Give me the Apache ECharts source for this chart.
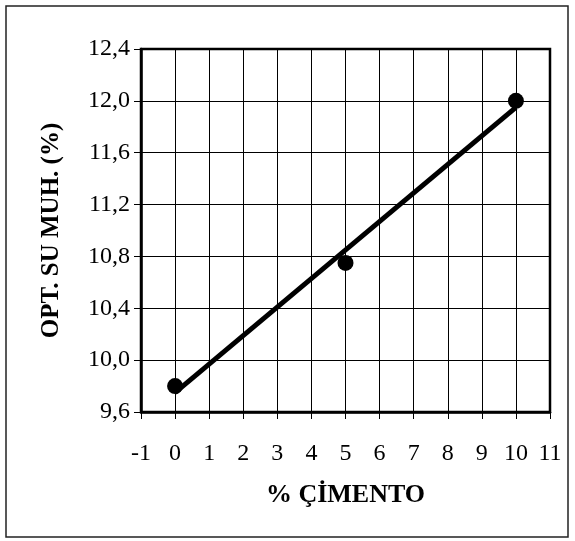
<!DOCTYPE html>
<html><head><meta charset="utf-8">
<script src="https://cdn.jsdelivr.net/npm/echarts@6/dist/echarts.min.js"></script>
<style>html,body{margin:0;padding:0;background:#fff}#c{width:575px;height:541px}</style>
</head><body><div id="c"></div>
<script>
const cementPct = [0, 5, 10];
const waterContent = [9.8, 10.75, 12.0];
const trendX = [0, 10];
const trendY = [9.75, 11.95];
const xTitle = '% ÇİMENTO';
const yTitle = 'OPT. SU MUH. (%)';

const chart = echarts.init(document.getElementById('c'), null, {renderer: 'canvas'});
const font = '"Liberation Serif", "Times New Roman", serif';
chart.setOption({
  animation: false,
  graphic: [{type: 'rect', shape: {x: 6, y: 6, width: 562, height: 531}, style: {fill: 'none', stroke: '#222', lineWidth: 1.5}}],
  grid: {left: 141, top: 49, right: 25, bottom: 129, show: true, borderColor: '#000', borderWidth: 2.5, backgroundColor: 'transparent'},
  xAxis: {
    type: 'value', min: -1, max: 11, interval: 1,
    name: xTitle, nameLocation: 'middle', nameGap: 70,
    nameTextStyle: {fontFamily: font, fontSize: 26, fontWeight: 'bold', color: '#000'},
    axisLine: {onZero: false, lineStyle: {color: '#000', width: 2.5}},
    axisTick: {show: true, length: 7, lineStyle: {color: '#000', width: 1}},
    axisLabel: {fontFamily: font, fontSize: 24, color: '#000', margin: 30},
    splitLine: {show: true, lineStyle: {color: '#000', width: 1}}
  },
  yAxis: {
    type: 'value', min: 9.6, max: 12.4, interval: 0.4,
    name: yTitle, nameLocation: 'middle', nameGap: 77, nameRotate: 90,
    nameTextStyle: {fontFamily: font, fontSize: 25, fontWeight: 'bold', color: '#000'},
    axisLine: {show: true, onZero: false, lineStyle: {color: '#000', width: 2.5}},
    axisTick: {show: true, length: 7, lineStyle: {color: '#000', width: 1}},
    axisLabel: {fontFamily: font, fontSize: 24, color: '#000', margin: 11,
      formatter: v => v.toFixed(1).replace('.', ',')},
    splitLine: {show: true, lineStyle: {color: '#000', width: 1}}
  },
  series: [
    {type: 'line', data: trendX.map((x, i) => [x, trendY[i]]), showSymbol: false,
     lineStyle: {color: '#000', width: 5}, z: 3},
    {type: 'scatter', data: cementPct.map((x, i) => [x, waterContent[i]]), symbol: 'circle', symbolSize: 16,
     itemStyle: {color: '#000', opacity: 1}, z: 4}
  ]
});
</script></body></html>
